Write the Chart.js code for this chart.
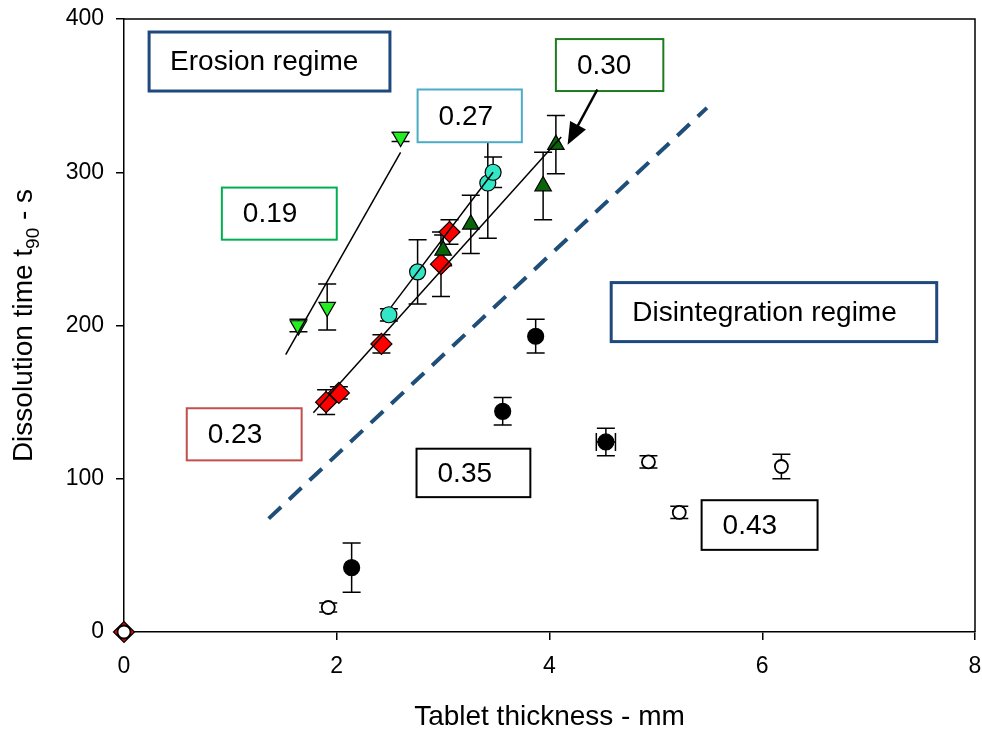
<!DOCTYPE html>
<html>
<head>
<meta charset="utf-8">
<script src="https://cdn.jsdelivr.net/npm/chart.js@4.4.1/dist/chart.umd.min.js"></script>
<style>
    html, body { margin: 0; padding: 0; background: #fff; }
</style>
</head>
<body>
<canvas id="myChart" width="982" height="731"></canvas>
<script>
// porosity 0.19 (erosion)
var x019 = [1.64, 1.91, 2.60];
var y019 = [200, 212, 323];
var e019 = [4, 15, 3];

// porosity 0.23
var x023 = [0, 1.90, 2.02, 2.42, 2.98, 3.06];
var y023 = [0, 150, 156, 188, 240, 261];
var e023 = [0, 8, 4, 6, 21, 8];

// porosity 0.27
var x027 = [2.49, 2.76, 3.42, 3.47];
var y027 = [207, 235, 293, 300];
var e027 = [4, 21, 36, 10];

// porosity 0.30
var x030 = [3.00, 3.26, 3.94, 4.06];
var y030 = [249, 266, 291, 318];
var e030 = [10, 19, 22, 19];

// porosity 0.35 (disintegration)
var x035 = [2.14, 3.56, 3.87, 4.53];
var y035 = [42, 144, 193, 124];
var e035 = [16, 9, 11, 9];
var ex035 = [0, 0, 0, 0.09];

// porosity 0.43
var x043 = [0, 1.92, 4.93, 5.22, 6.18];
var y043 = [0, 16, 111, 78, 108];
var e043 = [0, 3, 4, 4, 8];

// fitted lines [start, end]
var fit019X = [1.52, 2.60], fit019Y = [181, 313];
var fit023X = [1.78, 4.11], fit023Y = [143, 323];
var fit027X = [2.51, 3.47], fit027Y = [212, 300];

// regime boundary (dashed)
var boundX = [1.36, 5.48], boundY = [74, 342];

var xMin = 0, xMax = 8, xStep = 2;
var yMin = 0, yMax = 400, yStep = 100;

function pts(xs, ys) {
    return xs.map(function (x, i) { return { x: x, y: ys[i] }; });
}

var FONT = "'Liberation Sans', Arial, sans-serif";

function lineSet(xs, ys, extra) {
    var d = {
        type: 'line',
        data: pts(xs, ys),
        borderColor: '#000',
        borderWidth: 1.5,
        pointRadius: 0,
        fill: false,
        showLine: true
    };
    for (var k in extra) d[k] = extra[k];
    return d;
}

function markerSet(xs, ys, style, fill, radius, extra) {
    var d = {
        data: pts(xs, ys),
        pointStyle: style,
        pointRadius: radius,
        pointHoverRadius: radius,
        backgroundColor: fill,
        borderColor: '#000',
        borderWidth: 1.2,
        clip: false
    };
    for (var k in extra) d[k] = extra[k];
    return d;
}

// error bars for each marker series
var errSeries = [
    { xs: x019, ys: y019, ye: e019 },
    { xs: x023, ys: y023, ye: e023 },
    { xs: x027, ys: y027, ye: e027 },
    { xs: x030, ys: y030, ye: e030 },
    { xs: x035, ys: y035, ye: e035, xe: ex035 },
    { xs: x043, ys: y043, ye: e043 }
];

// text boxes, placed in data coordinates
var boxes = [
    { text: 'Erosion regime', x0: 0.236, x1: 2.50, y0: 391.5, y1: 353, color: '#1f497d', lw: 3 },
    { text: '0.27', x0: 2.76, x1: 3.74, y0: 354, y1: 319.6, color: '#4bacc6', lw: 2 },
    { text: '0.30', x0: 4.06, x1: 5.07, y0: 386.9, y1: 353, color: '#1e7b1e', lw: 2 },
    { text: '0.19', x0: 0.92, x1: 2.00, y0: 290, y1: 256, color: '#00b050', lw: 2 },
    { text: 'Disintegration regime', x0: 4.58, x1: 7.64, y0: 228, y1: 189.5, color: '#1f497d', lw: 3 },
    { text: '0.23', x0: 0.59, x1: 1.67, y0: 146, y1: 112, color: '#c0504d', lw: 2 },
    { text: '0.35', x0: 2.75, x1: 3.82, y0: 119.6, y1: 88, color: '#000', lw: 2 },
    { text: '0.43', x0: 5.43, x1: 6.52, y0: 86, y1: 53.6, color: '#000', lw: 2 }
];
var arrowFrom = { x: 4.45, y: 354 }, arrowTo = { x: 4.17, y: 318 };

var extras = {
    id: 'extras',
    beforeDatasetsDraw: function (chart) {
        var ctx = chart.ctx, sx = chart.scales.x, sy = chart.scales.y;
        ctx.save();
        ctx.strokeStyle = '#000';
        ctx.lineWidth = 1.5;
        var cap = 9;
        errSeries.forEach(function (s) {
            s.xs.forEach(function (x, i) {
                var px = sx.getPixelForValue(x), py = sy.getPixelForValue(s.ys[i]);
                if (s.ye[i] > 0) {
                    var t = sy.getPixelForValue(s.ys[i] + s.ye[i]);
                    var b = sy.getPixelForValue(s.ys[i] - s.ye[i]);
                    ctx.beginPath();
                    ctx.moveTo(px, t); ctx.lineTo(px, b);
                    ctx.moveTo(px - cap, t); ctx.lineTo(px + cap, t);
                    ctx.moveTo(px - cap, b); ctx.lineTo(px + cap, b);
                    ctx.stroke();
                }
                if (s.xe && s.xe[i] > 0) {
                    var l = sx.getPixelForValue(x - s.xe[i]);
                    var r = sx.getPixelForValue(x + s.xe[i]);
                    ctx.beginPath();
                    ctx.moveTo(l, py); ctx.lineTo(r, py);
                    ctx.moveTo(l, py - cap); ctx.lineTo(l, py + cap);
                    ctx.moveTo(r, py - cap); ctx.lineTo(r, py + cap);
                    ctx.stroke();
                }
            });
        });
        ctx.restore();
    },
    afterDatasetsDraw: function (chart) {
        var ctx = chart.ctx, sx = chart.scales.x, sy = chart.scales.y, a = chart.chartArea;
        ctx.save();
        // frame top and right
        ctx.strokeStyle = '#000';
        ctx.lineWidth = 1.5;
        ctx.beginPath();
        ctx.moveTo(a.left, a.top); ctx.lineTo(a.right, a.top); ctx.lineTo(a.right, a.bottom);
        ctx.stroke();

        // x tick labels (drawn here so they do not shrink the plot area)
        ctx.fillStyle = '#000';
        ctx.font = '23px ' + FONT;
        ctx.textAlign = 'center';
        ctx.textBaseline = 'middle';
        sx.ticks.forEach(function (t) {
            ctx.fillText(String(t.value), sx.getPixelForValue(t.value), a.bottom + 35);
        });

        // boxes
        ctx.font = '28px ' + FONT;
        ctx.textBaseline = 'middle';
        ctx.textAlign = 'left';
        boxes.forEach(function (b) {
            var l = sx.getPixelForValue(b.x0), r = sx.getPixelForValue(b.x1);
            var t = sy.getPixelForValue(b.y0), bt = sy.getPixelForValue(b.y1);
            ctx.fillStyle = '#fff';
            ctx.fillRect(l, t, r - l, bt - t);
            ctx.strokeStyle = b.color;
            ctx.lineWidth = b.lw;
            ctx.strokeRect(l, t, r - l, bt - t);
            ctx.fillStyle = '#000';
            ctx.fillText(b.text, l + 21, (t + bt) / 2 + 1);
        });

        // arrow to 0.30 series
        var ax = sx.getPixelForValue(arrowFrom.x), ay = sy.getPixelForValue(arrowFrom.y);
        var bx = sx.getPixelForValue(arrowTo.x), by = sy.getPixelForValue(arrowTo.y);
        var ang = Math.atan2(by - ay, bx - ax);
        ctx.strokeStyle = '#000';
        ctx.fillStyle = '#000';
        ctx.lineWidth = 2.5;
        ctx.beginPath();
        ctx.moveTo(ax, ay);
        ctx.lineTo(bx - 14 * Math.cos(ang), by - 14 * Math.sin(ang));
        ctx.stroke();
        ctx.beginPath();
        ctx.moveTo(bx, by);
        ctx.lineTo(bx - 22 * Math.cos(ang) + 9 * Math.sin(ang), by - 22 * Math.sin(ang) - 9 * Math.cos(ang));
        ctx.lineTo(bx - 22 * Math.cos(ang) - 9 * Math.sin(ang), by - 22 * Math.sin(ang) + 9 * Math.cos(ang));
        ctx.closePath();
        ctx.fill();

        // axis titles
        ctx.fillStyle = '#000';
        ctx.font = '28px ' + FONT;
        ctx.textAlign = 'center';
        ctx.textBaseline = 'middle';
        ctx.fillText('Tablet thickness - mm', (a.left + a.right) / 2, 717);

        // y title with subscript
        var p1 = 'Dissolution time t', sub = '90', p2 = ' - s';
        ctx.translate(22, (a.top + a.bottom) / 2);
        ctx.rotate(-Math.PI / 2);
        ctx.font = '28px ' + FONT;
        var w1 = ctx.measureText(p1).width, w3 = ctx.measureText(p2).width;
        ctx.font = '19px ' + FONT;
        var w2 = ctx.measureText(sub).width;
        var start = -(w1 + w2 + w3) / 2;
        ctx.textAlign = 'left';
        ctx.textBaseline = 'alphabetic';
        ctx.font = '28px ' + FONT;
        ctx.fillText(p1, start, 10);
        ctx.font = '19px ' + FONT;
        ctx.fillText(sub, start + w1, 17);
        ctx.font = '28px ' + FONT;
        ctx.fillText(p2, start + w1 + w2, 10);
        ctx.restore();
    }
};

var ctx = document.getElementById('myChart').getContext('2d');
var myChart = new Chart(ctx, {
    type: 'scatter',
    data: {
        datasets: [
            // first dataset is drawn on top
            lineSet(fit019X, fit019Y),
            lineSet(fit023X, fit023Y),
            lineSet(fit027X, fit027Y),
            lineSet(boundX, boundY, { borderColor: '#1f4e79', borderWidth: 4, borderDash: [17, 11] }),
            markerSet(x043, y043, 'circle', '#fff', 6.5, { borderWidth: 1.8 }),
            markerSet(x035, y035, 'circle', '#000', 8),
            markerSet(x030, y030, 'triangle', '#0a640a', 9.5),
            markerSet(x027, y027, 'circle', '#33e6c6', 8),
            markerSet(x023, y023, 'rectRot', '#ff0000', 10.5),
            markerSet(x019, y019, 'triangle', '#22ee22', 9.5, { rotation: 180 })
        ]
    },
    options: {
        responsive: false,
        animation: false,
        layout: { autoPadding: false, padding: { top: 19, right: 7, left: 0, bottom: 0 } },
        plugins: {
            legend: { display: false },
            tooltip: { enabled: false }
        },
        scales: {
            x: {
                type: 'linear',
                min: xMin, max: xMax,
                ticks: { stepSize: xStep, display: false },
                grid: { drawOnChartArea: false, drawTicks: true, tickLength: 8, color: '#000', lineWidth: 1.5 },
                border: { display: true, color: '#000', width: 1.5 },
                afterFit: function (scale) {
                    scale.height = 99;
                    scale.paddingLeft = 0;
                    scale.paddingRight = 0;
                }
            },
            y: {
                type: 'linear',
                min: yMin, max: yMax,
                ticks: { stepSize: yStep, color: '#000', font: { family: FONT, size: 23 }, padding: 12 },
                grid: { drawOnChartArea: false, drawTicks: true, tickLength: 8, color: '#000', lineWidth: 1.5 },
                border: { display: true, color: '#000', width: 1.5 },
                afterFit: function (scale) {
                    scale.width = 124;
                    scale.paddingTop = 0;
                    scale.paddingBottom = 0;
                }
            }
        }
    },
    plugins: [extras]
});
</script>
</body>
</html>
